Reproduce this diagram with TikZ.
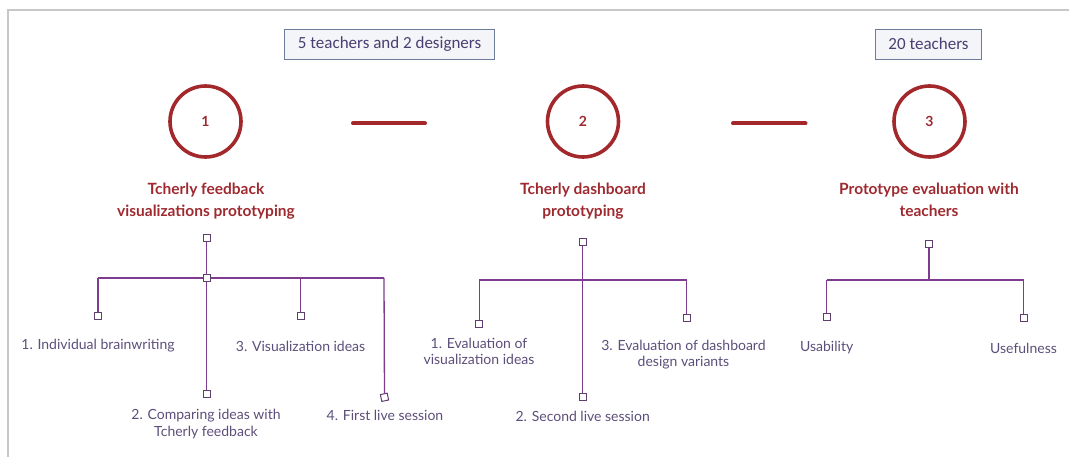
\documentclass[tikz,border=0pt]{standalone}
\usepackage{fontspec}
\setmainfont{Lato}
\newfontfamily\boxfont{Carlito}
\definecolor{stepred}{HTML}{A3282C}
\definecolor{titlered}{HTML}{9E2A30}
\definecolor{treepurple}{HTML}{7D3C8F}
\definecolor{sqpurple}{HTML}{5E3F6E}
\definecolor{labelcol}{HTML}{5C4E7A}
\definecolor{boxborder}{HTML}{6E7C99}
\definecolor{boxfill}{HTML}{F4F5F8}
\definecolor{boxtext}{HTML}{4A3E72}
\definecolor{framecol}{HTML}{C8C8C8}
\begin{document}
\begin{tikzpicture}[x=1pt,y=-1pt,
  framestyle/.style={draw=framecol,line width=1.2pt},
  countbox/.style={draw=boxborder,fill=boxfill,line width=0.8pt,text=boxtext,font=\boxfont\fontsize{17}{19}\selectfont,minimum height=30pt,inner sep=0pt},
  stepcircle/.style={circle,draw=stepred,line width=3.6pt,minimum size=71pt,inner sep=0pt,text=titlered,font=\bfseries\fontsize{14}{16}\selectfont},
  dashline/.style={draw=stepred,line width=4pt,line cap=round},
  steptitle/.style={align=center,text=titlered,font=\bfseries\fontsize{15.5}{21.7}\selectfont,inner sep=0pt},
  treeline/.style={draw=treepurple,line width=1.3pt},
  sq/.style={draw=sqpurple,fill=white,line width=1pt,minimum size=7pt,inner sep=0pt},
  leaf/.style={align=center,text=labelcol,font=\fontsize{14}{16.2}\selectfont,inner sep=0pt}
]
\useasboundingbox (0,0) rectangle (1069,457);
% frame
\coordinate (frBL) at (8,457);
\coordinate (frTL) at (8,10);
\coordinate (frTR) at (1069,10);
\draw[framestyle] (frBL) -- (frTL) -- (frTR);

% participant boxes
\node[countbox,minimum width=210pt] (g1) at (389.6,44) {5 teachers and 2 designers};
\node[countbox,minimum width=106pt] (g2) at (928.5,44) {20 teachers};

% step circles
\node[stepcircle] (c1) at (205.5,121.5) {1};
\node[stepcircle] (c2) at (583,121.5) {2};
\node[stepcircle] (c3) at (929.5,121.5) {3};

% dashes between steps
\coordinate (d1a) at (353,123.5);
\coordinate (d1b) at (425,123.5);
\coordinate (d2a) at (733,123.5);
\coordinate (d2b) at (805.5,123.5);
\draw[dashline] (d1a) -- (d1b);
\draw[dashline] (d2a) -- (d2b);

% titles
\node[steptitle] (h1) at (206,201) {Tcherly feedback\\visualizations prototyping};
\node[steptitle] (h2) at (583,201) {Tcherly dashboard\\prototyping};
\node[steptitle] (h3) at (929,199.5) {Prototype evaluation with\\teachers};

% ---------- tree 1 ----------
\coordinate (t1L) at (98,278);
\coordinate (t1R) at (384,278);
\node[sq] (t1top) at (206.5,238.5) {};
\node[sq] (t1mid) at (206.5,278) {};
\node[sq] (t1a) at (98,316) {};
\node[sq] (t1c) at (300.6,316) {};
\node[sq] (t1b) at (206.5,394.3) {};
\node[sq,rotate=12] (t1d) at (384.5,397.3) {};
\draw[treeline] (t1top) -- (t1mid) -- (t1b);
\draw[treeline] (t1L) -- (t1mid) -- (t1R);
\draw[treeline] (t1L) -- (t1a);
\draw[treeline] (t1c |- t1L) -- (t1c);
\draw[treeline] (t1R) -- (t1d);
\node[leaf] (l1a) at (98,346) {1. Individual brainwriting};
\node[leaf] (l1c) at (300.6,346) {3. Visualization ideas};
\node[leaf] (l1b) at (206,424) {2. Comparing ideas with\\Tcherly feedback};
\node[leaf] (l1d) at (385,415) {4. First live session};

% ---------- tree 2 ----------
\coordinate (t2L) at (479.3,280);
\coordinate (t2R) at (686.7,280);
\coordinate (t2J) at (582.7,280);
\node[sq] (t2top) at (582.7,241.7) {};
\node[sq] (t2a) at (479.3,324.3) {};
\node[sq] (t2c) at (686.7,318.3) {};
\node[sq] (t2b) at (582.7,396.7) {};
\draw[treeline] (t2top) -- (t2b);
\draw[treeline] (t2L) -- (t2R);
\draw[treeline] (t2L) -- (t2a);
\draw[treeline] (t2R) -- (t2c);
\node[leaf] (l2a) at (479,351.3) {1. Evaluation of\\visualization ideas};
\node[leaf] (l2c) at (683.5,354.7) {3. Evaluation of dashboard\\design variants};
\node[leaf] (l2b) at (582.7,416) {2. Second live session};

% ---------- tree 3 ----------
\coordinate (t3L) at (826.7,280);
\coordinate (t3R) at (1023.7,280);
\coordinate (t3J) at (929,280);
\node[sq] (t3top) at (929,244) {};
\node[sq] (t3a) at (826.7,316.7) {};
\node[sq] (t3b) at (1023.7,317.7) {};
\draw[treeline] (t3top) -- (t3J);
\draw[treeline] (t3L) -- (t3R);
\draw[treeline] (t3L) -- (t3a);
\draw[treeline] (t3R) -- (t3b);
\node[leaf] (l3a) at (826.7,347.3) {Usability};
\node[leaf] (l3b) at (1023.5,348.3) {Usefulness};
\end{tikzpicture}
\end{document}
